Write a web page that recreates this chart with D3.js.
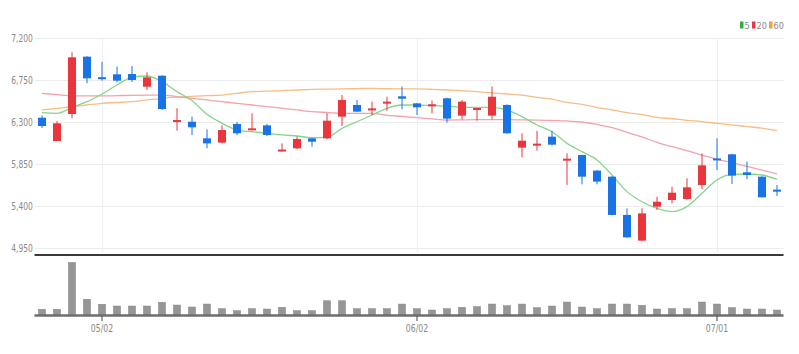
<!DOCTYPE html>
<html>
<head>
<meta charset="utf-8">
<script src="https://cdn.jsdelivr.net/npm/d3@7"></script>
<style>
  body { margin: 0; background: #fff; }
  text { font-family: "Liberation Sans Narrow", "DejaVu Sans Condensed", sans-serif; }
</style>
</head>
<body>
<div id="chart-area"></div>
<script>
// trading days (2022), 50 sessions
const dates = ["04/26","04/27","04/28","04/29","05/02","05/03","05/04","05/06","05/09","05/10",
  "05/11","05/12","05/13","05/16","05/17","05/18","05/19","05/20","05/23","05/24",
  "05/25","05/26","05/27","05/30","05/31","06/02","06/03","06/07","06/08","06/09",
  "06/10","06/13","06/14","06/15","06/16","06/17","06/20","06/21","06/22","06/23",
  "06/24","06/27","06/28","06/29","06/30","07/01","07/04","07/05","07/06","07/07"];

const opens  = [6346,6096,6386,7000,6780,6811,6814,6678,6796,6310,6303,6125,6079,6279,6221,6264,5995,6018,6125,6125,
  6357,6482,6432,6504,6575,6500,6475,6554,6368,6440,6368,6482,6025,6054,6143,5893,5946,5779,5714,5304,
  5029,5393,5464,5475,5625,5910,5954,5761,5714,5575];
const highs  = [6370,6311,7047,7005,6946,6893,6900,6832,6800,6447,6357,6221,6264,6300,6393,6279,6071,6143,6130,6393,
  6589,6536,6518,6571,6679,6505,6529,6560,6536,6450,6679,6490,6179,6204,6207,5964,5950,5785,5720,5375,
  5375,5500,5607,5697,5964,6125,5960,5875,5718,5625];
const lows   = [6235,6096,6340,6715,6743,6725,6729,6643,6430,6207,6161,6018,6070,6161,6214,6150,5982,6010,6036,6115,
  6257,6405,6375,6421,6436,6375,6393,6293,6329,6314,6329,6175,5921,5993,6050,5625,5632,5632,5300,5060,
  5025,5357,5429,5470,5579,5786,5636,5686,5490,5507];
const closes = [6257,6286,6993,6768,6760,6743,6750,6779,6439,6321,6243,6071,6214,6179,6232,6161,6005,6118,6089,6314,
  6536,6411,6446,6518,6550,6457,6490,6336,6518,6450,6571,6179,6100,6068,6057,5907,5714,5661,5304,5064,
  5321,5446,5543,5600,5836,5890,5725,5732,5493,5555];

const volumes = [57,57,527,157,107,90,90,90,127,100,80,110,63,43,63,60,77,43,43,143,
  143,63,63,63,110,63,50,63,77,83,110,93,110,73,90,130,80,63,110,110,
  97,60,63,63,130,110,73,60,60,50].map(v => v * 1000);

const ma5  = [6400,6393,6457,6518,6600,6696,6779,6793,6732,6625,6530,6382,6286,6214,6196,6179,6161,6150,6132,6136,
  6232,6303,6375,6447,6482,6482,6475,6471,6457,6457,6457,6429,6357,6268,6196,6071,5982,5893,5732,5554,
  5446,5375,5339,5393,5536,5679,5739,5743,5732,5686];
const ma20 = [6607,6593,6579,6579,6579,6582,6586,6588,6589,6572,6554,6536,6518,6500,6482,6465,6447,6429,6411,6402,
  6393,6393,6393,6372,6360,6346,6334,6321,6323,6325,6325,6325,6323,6321,6316,6311,6300,6275,6240,6190,
  6140,6082,6035,5992,5945,5900,5865,5825,5785,5743];
const ma60 = [6429,6446,6464,6482,6500,6509,6518,6536,6554,6566,6575,6582,6589,6607,6625,6630,6636,6643,6650,6652,
  6654,6658,6661,6656,6654,6654,6650,6643,6636,6625,6612,6600,6588,6564,6545,6510,6490,6455,6430,6400,
  6380,6350,6335,6318,6305,6285,6270,6250,6235,6207];

const priceTicks = [4950, 5400, 5850, 6300, 6750, 7200];
const dateTicks = ["05/02", "06/02", "07/01"];
const maNames = ["5", "20", "60"];

const W = 799, H = 354;
const LEFT = 34.5, RIGHT = 784.5;
const RED = "#e8363c", BLUE = "#1874e6";
const maColors = ["#86d48a", "#f2a3ab", "#f6bd86"];
const legendColors = ["#27b33c", "#ee3540", "#f3a33e"];

const svg = d3.select("#chart-area").append("svg")
    .attr("width", W)
    .attr("height", H)
    .style("background", "#fff")

const x = d3.scaleBand()
    .domain(dates)
    .range([LEFT, RIGHT])

const cx = d => x(d) + x.bandwidth() / 2;

const y = d3.scaleLinear()
    .domain([4950, 7200])
    .range([248, 38])

const yv = d3.scaleLinear()
    .domain([0, d3.max(volumes)])
    .range([315, 262.5])

// horizontal grid + price labels
const yAxis = svg.append("g")
    .attr("transform", `translate(${LEFT}, 0)`)
    .call(d3.axisLeft(y).tickValues(priceTicks).tickFormat(d3.format(","))
        .tickSize(-(RIGHT - LEFT - 1)).tickPadding(2))
yAxis.select(".domain").remove()
yAxis.selectAll("line").attr("stroke", "#ececec")
yAxis.selectAll("text")
    .attr("fill", "#8a8a8a")
    .attr("font-size", 10.5)
    .attr("transform", "scale(0.8,1)")

// vertical grid lines at month ticks
svg.append("g").selectAll("line")
    .data(dateTicks)
    .enter().append("line")
    .attr("x1", d => cx(d) + 0.5)
    .attr("x2", d => cx(d) + 0.5)
    .attr("y1", 38)
    .attr("y2", 252)
    .attr("stroke", "#eeeeee")

// price chart bottom border
svg.append("line")
    .attr("x1", LEFT).attr("x2", RIGHT - 1)
    .attr("y1", 255).attr("y2", 255)
    .attr("stroke", "#3a3a3a")
    .attr("stroke-width", 2)

// moving averages
const maSeries = [ma5, ma20, ma60];
const line = d3.line()
    .x((d, i) => cx(dates[i]))
    .y(d => y(d))
    .curve(d3.curveMonotoneX)

svg.append("g").selectAll("path")
    .data(maSeries.slice().reverse())
    .enter().append("path")
    .attr("d", line)
    .attr("fill", "none")
    .attr("stroke", (d, i) => maColors[2 - i])
    .attr("stroke-width", 1.3)

// candles
const candles = svg.append("g").selectAll("g")
    .data(dates)
    .enter().append("g")

const col = i => closes[i] >= opens[i] ? RED : BLUE;

candles.append("line")
    .attr("x1", d => cx(d))
    .attr("x2", d => cx(d))
    .attr("y1", (d, i) => y(highs[i]))
    .attr("y2", (d, i) => y(lows[i]))
    .attr("stroke", (d, i) => col(i))
    .attr("stroke-width", 1)

candles.append("rect")
    .attr("x", d => cx(d) - 4)
    .attr("width", 8)
    .attr("y", (d, i) => y(Math.max(opens[i], closes[i])))
    .attr("height", (d, i) => Math.max(2, Math.abs(y(opens[i]) - y(closes[i]))))
    .attr("fill", (d, i) => col(i))

// volume bars
svg.append("g").selectAll("rect")
    .data(volumes)
    .enter().append("rect")
    .attr("x", (d, i) => cx(dates[i]) - 3.5)
    .attr("width", 7)
    .attr("y", d => yv(d))
    .attr("height", d => yv(0) - yv(d))
    .attr("fill", "#969696")
    .attr("stroke", "#808080")
    .attr("stroke-width", 0.5)

svg.append("line")
    .attr("x1", LEFT).attr("x2", RIGHT - 1)
    .attr("y1", 315.5).attr("y2", 315.5)
    .attr("stroke", "#6e6e6e")
    .attr("stroke-width", 2.5)

// date axis
const xAxis = svg.append("g")
    .attr("transform", "translate(0, 316)")
    .call(d3.axisBottom(x).tickValues(dateTicks).tickSize(5).tickPadding(4))
xAxis.select(".domain").remove()
xAxis.selectAll("line").attr("stroke", "#444")
xAxis.selectAll("text")
    .attr("fill", "#888")
    .attr("font-size", 10.5)
    .attr("transform", "scale(0.82,1)")

// legend
const legend = svg.append("g")
    .attr("transform", "translate(740, 0)")
const lx = [0, 12, 29];
maNames.forEach((n, i) => {
    legend.append("rect")
        .attr("x", lx[i]).attr("y", 21.5)
        .attr("width", 3.5).attr("height", 7)
        .attr("fill", legendColors[i])
    legend.append("text")
        .attr("x", lx[i] + 4.5).attr("y", 28.5)
        .attr("font-size", 9)
        .attr("fill", "#888")
        .text(n)
})
</script>
</body>
</html>
